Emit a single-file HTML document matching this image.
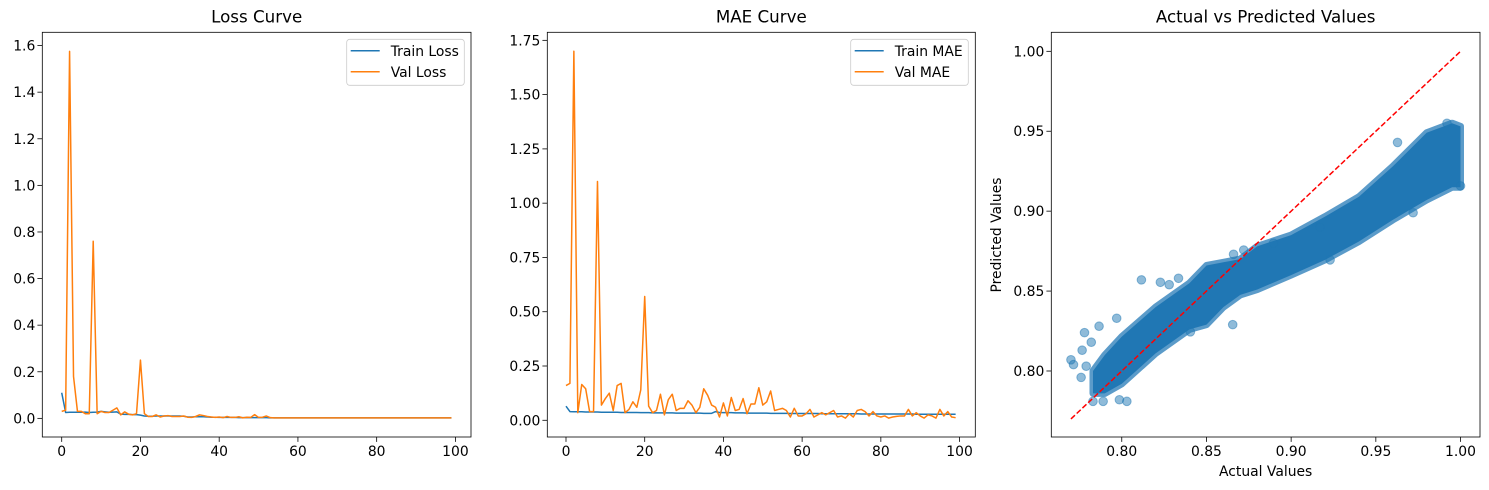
<!DOCTYPE html>
<html><head><meta charset="utf-8"><style>
body{margin:0;background:#fff;}
svg{display:block;font-family:"DejaVu Sans","Liberation Sans",sans-serif;}
</style></head><body>
<svg id="fig" width="1489" height="490" viewBox="0 0 1489 490"></svg>
<script>
const epochs = Array.from({length:100},(_,i)=>i);
const trainLoss = [0.11,0.025,0.026,0.026,0.026,0.026,0.027,0.025,0.026,0.027,0.03,0.028,0.026,0.027,0.028,0.018,0.017,0.017,0.016,0.016,0.014,0.01,0.009,0.009,0.01,0.01,0.01,0.01,0.01,0.01,0.01,0.009,0.006,0.006,0.007,0.007,0.007,0.006,0.005,0.005,0.004,0.004,0.004,0.004,0.004,0.003,0.003,0.003,0.003,0.003,0.003,0.003,0.003,0.002,0.002,0.002,0.002,0.002,0.002,0.002,0.002,0.002,0.002,0.002,0.002,0.002,0.002,0.002,0.002,0.002,0.002,0.002,0.002,0.002,0.002,0.002,0.002,0.002,0.002,0.002,0.002,0.002,0.002,0.002,0.002,0.002,0.002,0.002,0.002,0.002,0.002,0.002,0.002,0.002,0.002,0.002,0.002,0.002,0.002,0.002];
const valLoss = [0.03,0.035,1.575,0.18,0.03,0.03,0.02,0.02,0.76,0.02,0.03,0.025,0.025,0.035,0.045,0.015,0.028,0.018,0.015,0.02,0.25,0.02,0.008,0.008,0.015,0.006,0.01,0.012,0.008,0.008,0.008,0.01,0.005,0.004,0.008,0.015,0.012,0.008,0.006,0.004,0.006,0.003,0.008,0.004,0.004,0.007,0.002,0.005,0.004,0.016,0.004,0.005,0.01,0.003,0.002,0.002,0.002,0.002,0.002,0.002,0.002,0.002,0.002,0.002,0.002,0.002,0.002,0.002,0.002,0.002,0.002,0.002,0.002,0.002,0.002,0.002,0.002,0.002,0.002,0.002,0.002,0.002,0.002,0.002,0.002,0.002,0.002,0.002,0.002,0.002,0.002,0.002,0.002,0.002,0.002,0.002,0.002,0.002,0.002,0.002];
const trainMae = [0.065,0.04,0.039,0.039,0.039,0.038,0.038,0.038,0.038,0.037,0.037,0.037,0.037,0.037,0.036,0.036,0.036,0.036,0.036,0.035,0.035,0.035,0.034,0.034,0.034,0.034,0.034,0.034,0.033,0.033,0.033,0.033,0.033,0.033,0.033,0.032,0.032,0.032,0.04,0.036,0.035,0.035,0.035,0.034,0.034,0.034,0.033,0.033,0.033,0.033,0.033,0.033,0.032,0.032,0.032,0.032,0.032,0.031,0.031,0.031,0.031,0.031,0.031,0.031,0.031,0.030,0.030,0.030,0.030,0.030,0.030,0.030,0.030,0.030,0.030,0.029,0.029,0.029,0.029,0.029,0.029,0.029,0.029,0.029,0.029,0.029,0.029,0.029,0.029,0.028,0.028,0.028,0.028,0.028,0.028,0.028,0.028,0.028,0.028,0.028];
const valMae = [0.16,0.17,1.70,0.035,0.165,0.145,0.04,0.04,1.10,0.07,0.10,0.125,0.045,0.16,0.17,0.035,0.05,0.085,0.06,0.14,0.57,0.065,0.035,0.045,0.12,0.025,0.095,0.12,0.045,0.055,0.055,0.09,0.07,0.035,0.06,0.145,0.115,0.07,0.06,0.015,0.08,0.02,0.105,0.045,0.05,0.1,0.03,0.075,0.075,0.15,0.07,0.085,0.135,0.045,0.05,0.055,0.045,0.015,0.055,0.02,0.02,0.03,0.05,0.015,0.025,0.035,0.025,0.035,0.045,0.015,0.02,0.01,0.03,0.015,0.045,0.05,0.04,0.02,0.04,0.02,0.015,0.02,0.01,0.015,0.018,0.02,0.02,0.05,0.02,0.035,0.02,0.01,0.025,0.02,0.01,0.05,0.02,0.04,0.015,0.012];
const xTicks = [0,20,40,60,80,100];
const lossTicks = [0,0.2,0.4,0.6,0.8,1.0,1.2,1.4,1.6];
const lossTickLabels = ["0.0","0.2","0.4","0.6","0.8","1.0","1.2","1.4","1.6"];
const maeTicks = [0,0.25,0.5,0.75,1.0,1.25,1.5,1.75];
const maeTickLabels = ["0.00","0.25","0.50","0.75","1.00","1.25","1.50","1.75"];
const scatTicks = [0.80,0.85,0.90,0.95,1.00];
const scatTickLabels = ["0.80","0.85","0.90","0.95","1.00"];
const bandX = [0.783,0.79,0.80,0.82,0.84,0.85,0.86,0.87,0.88,0.90,0.92,0.94,0.96,0.98,0.995,1.0];
const bandHigh = [0.800,0.810,0.8215,0.840,0.855,0.866,0.868,0.870,0.878,0.885,0.8966,0.909,0.928,0.949,0.955,0.953];
const bandLow = [0.786,0.786,0.792,0.811,0.826,0.829,0.840,0.8476,0.851,0.860,0.8695,0.881,0.8945,0.907,0.915,0.915];
const outX = [0.770,0.7715,0.7766,0.778,0.782,0.7866,0.797,0.8116,0.8228,0.828,0.8335,0.8655,0.9628,1.0,0.789,0.783,0.803,0.7986,0.779,0.776,0.8896,0.872,0.992,0.972,0.917,0.923,0.866,0.8405];
const outY = [0.807,0.804,0.813,0.824,0.818,0.828,0.833,0.857,0.8555,0.854,0.858,0.829,0.943,0.9158,0.781,0.781,0.781,0.782,0.803,0.796,0.880,0.8757,0.955,0.899,0.890,0.8695,0.873,0.8245];

const NS="http://www.w3.org/2000/svg";
const svg=document.getElementById('fig');
function mk(tag,attrs,parent){const e=document.createElementNS(NS,tag);for(const k in attrs)e.setAttribute(k,attrs[k]);(parent||svg).appendChild(e);return e;}
function lin(d0,d1,p0,p1){return v=>p0+(v-d0)/(d1-d0)*(p1-p0);}

function axesFrame(box,title,xt,xtl,yt,ytl,sx,sy,name){
  const g=mk('g',{});
  
  
  xt.forEach((v,i)=>{const x=sx(v);
    const t=mk('line',{x1:x,x2:x,y1:box.b,y2:box.b+4.9,stroke:'#000','stroke-width':0.8},g);
    
    const l=mk('text',{x:x,y:box.b+19,'font-size':13.9,'text-anchor':'middle',fill:'#000'},g);
    
    l.textContent=xtl[i];});
  yt.forEach((v,i)=>{const y=sy(v);
    const t=mk('line',{x1:box.l-4.9,x2:box.l,y1:y,y2:y,stroke:'#000','stroke-width':0.8},g);
    
    const l=mk('text',{x:box.l-7,y:y+5,'font-size':13.9,'text-anchor':'end',fill:'#000'},g);
    
    l.textContent=ytl[i];});
  const tt=mk('text',{x:(box.l+box.r)/2,y:box.t-10,'font-size':16.7,'text-anchor':'middle',fill:'#000'},g);
  
  tt.textContent=title;
  return g;
}
function frame(box,name){
  const r=mk('rect',{x:box.l,y:box.t,width:box.r-box.l,height:box.b-box.t,fill:'none',stroke:'#000','stroke-width':0.8});
  
}
function linePath(xs,ys,sx,sy){return xs.map((v,i)=>(i?'L':'M')+sx(v).toFixed(2)+','+sy(ys[i]).toFixed(2)).join('');}
function legend(x,y,w,labels,name){
  const g=mk('g',{});
  
  mk('rect',{x:x,y:y,width:w,height:46,rx:3,fill:'#fff','fill-opacity':0.8,stroke:'#ccc','stroke-width':0.8},g);
  const cols=['#1f77b4','#ff7f0e'];
  labels.forEach((lb,i)=>{const yy=y+11.5+i*21;
    const s=mk('line',{x1:x+4,x2:x+33,y1:yy,y2:yy,stroke:cols[i],'stroke-width':1.5},g);
    
    const t=mk('text',{x:x+44,y:yy+5,'font-size':13.9,fill:'#000'},g);
    
    t.textContent=lb;});
}

// Loss plot
(function(){
  const box={l:42.3,r:471,t:32.3,b:437};
  const sx=lin(-4.93,103.96,box.l,box.r), sy=lin(-0.080,1.657,box.b,box.t);
  axesFrame(box,'Loss Curve',xTicks,xTicks.map(String),lossTicks,lossTickLabels,sx,sy,'loss');
  const p1=mk('path',{d:linePath(epochs,trainLoss,sx,sy),fill:'none',stroke:'#1f77b4','stroke-width':1.5,'stroke-linejoin':'round'});
  
  const p2=mk('path',{d:linePath(epochs,valLoss,sx,sy),fill:'none',stroke:'#ff7f0e','stroke-width':1.5,'stroke-linejoin':'round'});
  
  frame(box,'loss');
  legend(346.7,39.3,117.6,['Train Loss','Val Loss'],'loss');
})();
// MAE plot
(function(){
  const box={l:547.3,r:975.3,t:32.3,b:437};
  const sx=lin(-4.75,104.0,box.l,box.r), sy=lin(-0.077,1.787,box.b,box.t);
  axesFrame(box,'MAE Curve',xTicks,xTicks.map(String),maeTicks,maeTickLabels,sx,sy,'mae');
  const p1=mk('path',{d:linePath(epochs,trainMae,sx,sy),fill:'none',stroke:'#1f77b4','stroke-width':1.5,'stroke-linejoin':'round'});
  
  const p2=mk('path',{d:linePath(epochs,valMae,sx,sy),fill:'none',stroke:'#ff7f0e','stroke-width':1.5,'stroke-linejoin':'round'});
  
  frame(box,'mae');
  legend(850.7,39.3,117.6,['Train MAE','Val MAE'],'mae');
})();
// Scatter plot
(function(){
  const box={l:1051.3,r:1480,t:32.3,b:437};
  const sx=lin(0.7584,1.0115,box.l,box.r), sy=lin(0.7587,1.0119,box.b,box.t);
  axesFrame(box,'Actual vs Predicted Values',scatTicks,scatTickLabels,scatTicks,scatTickLabels,sx,sy,'scatter');
  let d='M'+bandX.map((v,i)=>sx(v).toFixed(1)+','+sy(bandHigh[i]).toFixed(1)).join('L');
  for(let i=bandX.length-1;i>=0;i--) d+='L'+sx(bandX[i]).toFixed(1)+','+sy(bandLow[i]).toFixed(1);
  d+='Z';
  const band=mk('path',{d:d,fill:'#2277b4',stroke:'#5b9bc9','stroke-width':7,'stroke-linejoin':'round'});
  
  const band2=mk('path',{d:d,fill:'#2077b4'});
  
  outX.forEach((v,i)=>{
    const c=mk('circle',{cx:sx(v),cy:sy(outY[i]),r:4.3,fill:'#1f77b4','fill-opacity':0.5,stroke:'#1f77b4','stroke-opacity':0.5,'stroke-width':1});
    
  });
  const dl=mk('line',{x1:sx(0.77),y1:sy(0.77),x2:sx(1.0),y2:sy(1.0),stroke:'#ff0000','stroke-width':1.5,'stroke-dasharray':'5.5,2.4'});
  
  frame(box,'scatter');
  const xl=mk('text',{x:(box.l+box.r)/2,y:476,'font-size':13.9,'text-anchor':'middle',fill:'#000'});
  
  xl.textContent='Actual Values';
  const yl=mk('text',{x:0,y:0,'font-size':13.9,'text-anchor':'middle',fill:'#000',transform:'translate(1001,235) rotate(-90)'});
  
  yl.textContent='Predicted Values';
})();
</script>
</body></html>
